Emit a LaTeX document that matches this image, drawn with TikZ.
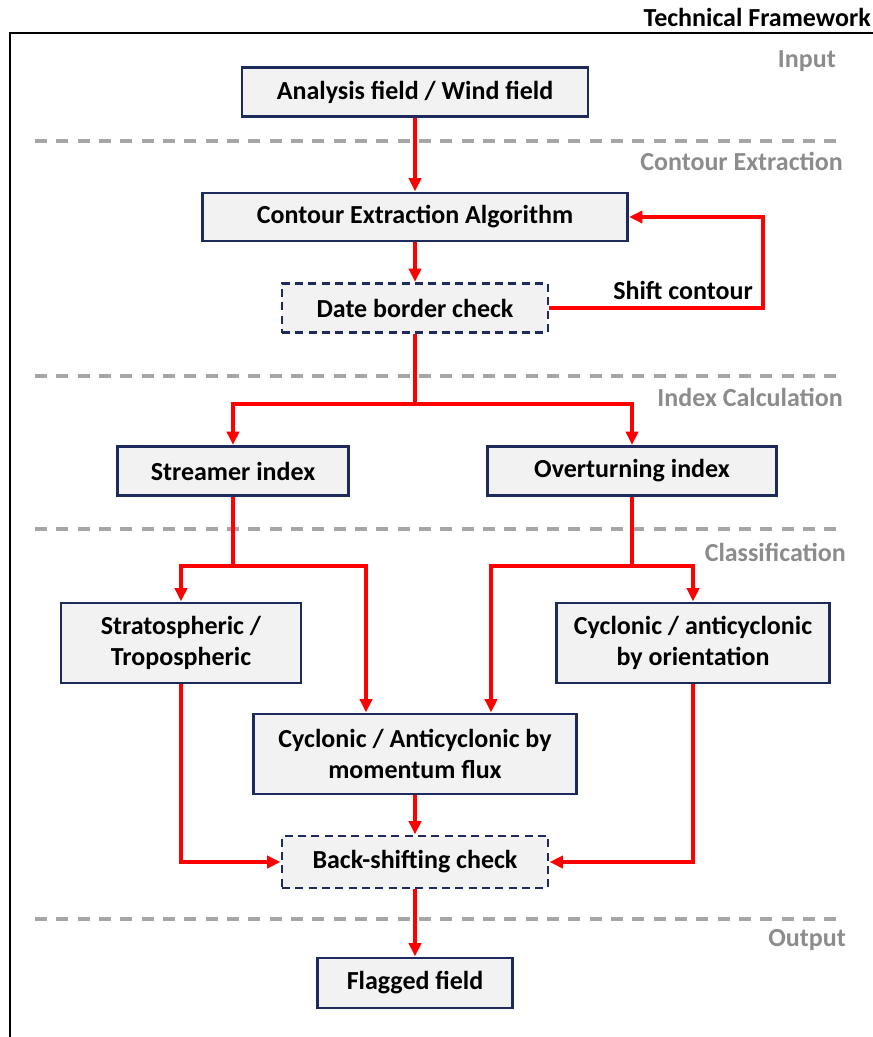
\documentclass[tikz,border=0pt]{standalone}
\usepackage{fontspec}
\setmainfont{Carlito}
\usetikzlibrary{arrows.meta}
\definecolor{boxfill}{HTML}{F2F2F2}
\definecolor{boxline}{HTML}{1F2A5C}
\definecolor{flowred}{HTML}{FF0000}
\definecolor{stagegray}{HTML}{8C8C8C}
\definecolor{sepgray}{HTML}{A6A6A6}
\tikzset{
  procbox/.style={draw=boxline,fill=boxfill,line width=2.2pt,align=center,
    font=\fontsize{19.5}{23}\selectfont\bfseries,inner sep=2pt},
  checkbox/.style={procbox,dash pattern=on 6pt off 4pt},
  flow/.style={draw=flowred,line width=2.6pt,-{Triangle[length=10pt,width=9pt]}},
  flowline/.style={draw=flowred,line width=2.6pt},
  stagelabel/.style={anchor=east,text=stagegray,font=\fontsize{19.5}{23}\selectfont\bfseries,inner sep=0pt},
  sepline/.style={draw=sepgray,line width=2.4pt,dash pattern=on 9pt off 7pt}
}
\begin{document}
\begin{tikzpicture}[x=0.75pt,y=-0.75pt]
\useasboundingbox (0,0) rectangle (872,1037);
  % frame
\draw[line width=2.2pt] (10,1037) -- (10,33) -- (875,33);
\node[anchor=east,inner sep=0pt,font=\fontsize{19.5}{23}\selectfont\bfseries] (title) at (871,17) {Technical Framework};
  % stage separators
\foreach \yy in {141,376,529,919}
  \draw[sepline] (35,\yy) -- (843,\yy);
\node[stagelabel] (stin) at (836,61) {Input};
\node[stagelabel] (stce) at (843,161) {Contour Extraction};
\node[stagelabel] (stic) at (843,397) {Index Calculation};
\node[stagelabel] (stcl) at (846,552) {Classification};
\node[stagelabel] (stout) at (846,940) {Output};
  % boxes
\node[procbox,minimum width=259.5pt,minimum height=36.75pt] (analysis) at (415,92) {Analysis field / Wind field};
\node[procbox,minimum width=318.75pt,minimum height=36pt] (contour) at (415,217) {Contour Extraction Algorithm};
\node[checkbox,minimum width=199.5pt,minimum height=36.75pt] (border) at (415,308) {Date border check};
\node[procbox,minimum width=173.25pt,minimum height=36.75pt] (streamer) at (233,471) {Streamer index};
\node[procbox,minimum width=216.75pt,minimum height=36.75pt] (overturn) at (632,471) {Overturning index};
\node[procbox,minimum width=180pt,minimum height=60pt] (strato) at (181,643) {Stratospheric /\\Tropospheric};
\node[procbox,minimum width=204.75pt,minimum height=60pt] (orient) at (693,643) {Cyclonic / anticyclonic\\by orientation};
\node[procbox,minimum width=242.25pt,minimum height=60pt] (momentum) at (415,754) {Cyclonic / Anticyclonic by\\momentum flux};
\node[checkbox,minimum width=199.5pt,minimum height=39pt] (backshift) at (415,862) {Back-shifting check};
\node[procbox,minimum width=146.25pt,minimum height=37.5pt] (flagged) at (415,983) {Flagged field};
  % connectors
\coordinate (loopR) at (763,308);
\coordinate (split) at (415,404);
\coordinate (splitS) at (233,566);
\coordinate (splitO) at (632,566);
\draw[flow] (analysis) -- (contour);
\draw[flow] (contour) -- (border);
\draw[flow] (border.east) -- (loopR) |- (contour.east);
\node[font=\fontsize{19.5}{23}\selectfont\bfseries,anchor=base east,inner sep=0pt] (shiftlbl) at (753,299) {Shift contour};
\draw[flowline] (border.south) -- (split);
\draw[flow] (split) -| (streamer.north);
\draw[flow] (split) -| (overturn.north);
\draw[flowline] (streamer.south) -- (splitS);
\draw[flow] (splitS) -| (strato.north);
\draw[flow] (splitS) -| (momentum.north -| 366,0);
\draw[flowline] (overturn.south) -- (splitO);
\draw[flow] (splitO) -| (momentum.north -| 491,0);
\draw[flow] (splitO) -| (orient.north);
\draw[flow] (strato.south) |- (backshift.west);
\draw[flow] (orient.south) |- (backshift.east);
\draw[flow] (momentum) -- (backshift);
\draw[flow] (backshift) -- (flagged);
\end{tikzpicture}
\end{document}
